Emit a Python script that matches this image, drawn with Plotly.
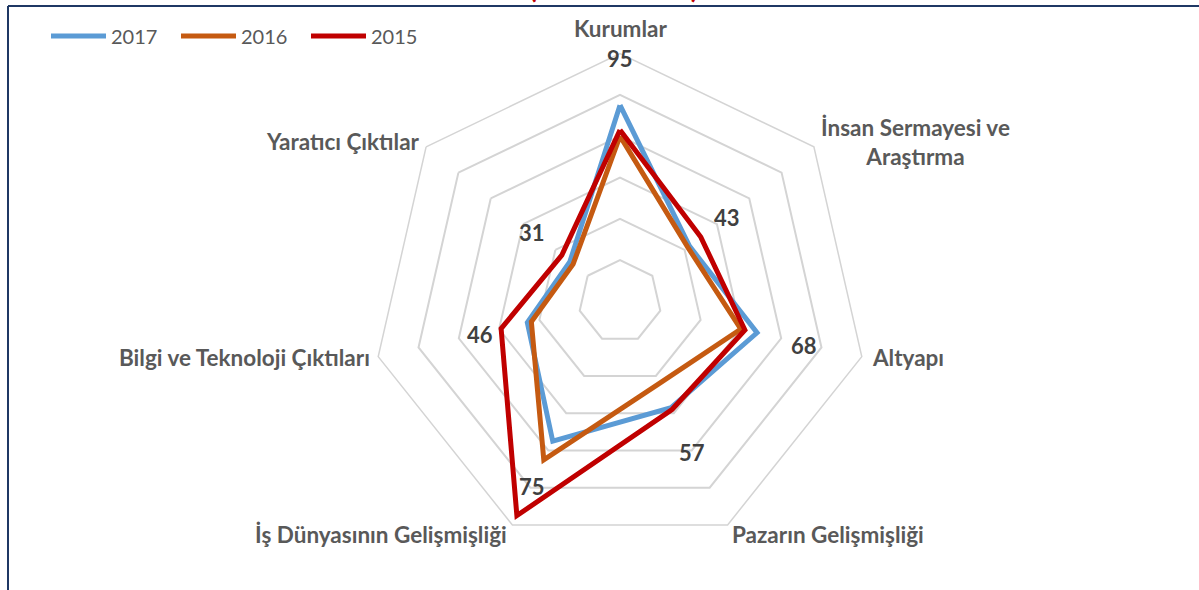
import math
import plotly.graph_objects as go

# ---- data ----
categories = ["Kurumlar", "İnsan Sermayesi ve Araştırma", "Altyapı",
              "Pazarın Gelişmişliği", "İş Dünyasının Gelişmişliği",
              "Bilgi ve Teknoloji Çıktıları", "Yaratıcı Çıktılar"]
category_labels = ["Kurumlar", "İnsan Sermayesi ve<br>Araştırma", "Altyapı",
                   "Pazarın Gelişmişliği", "İş Dünyasının Gelişmişliği",
                   "Bilgi ve Teknoloji Çıktıları", "Yaratıcı Çıktılar"]
series_names = ["2017", "2016", "2015"]
values_2017 = [95, 43, 68, 57, 75, 46, 31]
values_2016 = [80, 42, 60, 44, 85, 44, 29]
values_2015 = [83, 50, 62, 58, 115, 59, 36]
radial_ticks = [0, 20, 40, 60, 80, 100, 120]

# ---- style ----
W, H = 1199, 590
CX, CY, R = 620.0, 301.5, 248.0
colors = ["#5B9BD5", "#C55A11", "#C00000"]
FONT = "Lato"
GRID = "#D4D4D4"
RMAX = radial_ticks[-1]

fig = go.Figure()
for name, vals, col in zip(series_names, [values_2017, values_2016, values_2015], colors):
    fig.add_trace(go.Scatterpolar(
        r=vals + vals[:1], theta=categories + categories[:1],
        mode="lines", name=name,
        line=dict(color=col, width=5), hoverinfo="skip"))

n = len(categories)


def polar_to_paper(rv, i):
    a = math.radians(i * 360.0 / n)
    rp = rv / RMAX * R
    return CX + rp * math.sin(a), CY - rp * math.cos(a)


annotations = []

# data labels for 2017, pushed outward along each axis
label_offset = 23.5
for i, v in enumerate(values_2017):
    px, py = polar_to_paper(v + label_offset, i)
    annotations.append(dict(
        x=px / W, y=1 - (py + 1.5) / H, xref="paper", yref="paper",
        text=str(v), showarrow=False, xanchor="center", yanchor="middle",
        font=dict(family=FONT, size=22, color="#404040", weight="bold")))

# category labels placed next to the outer polygon vertices
offsets = [  # (dx, dy, xanchor)
    (0, -25.5, "center"),
    (5, -5, "left"),
    (8, 1, "left"),
    (2, 10, "left"),
    (-3, 10, "right"),
    (-6, 1, "right"),
    (-4, -5, "right"),
]
for i, lab in enumerate(category_labels):
    vx, vy = polar_to_paper(RMAX, i)
    dx, dy, xa = offsets[i]
    annotations.append(dict(
        x=(vx + dx) / W, y=1 - (vy + dy) / H, xref="paper", yref="paper",
        text=lab, showarrow=False, xanchor=xa, yanchor="middle", align="center",
        font=dict(family=FONT, size=22.5, color="#595959", weight="bold")))

# title (mostly cut off at the top of the frame, as in the original)
annotations.append(dict(
    x=613 / W, y=1 - 6 / H, xref="paper", yref="paper", xanchor="center", yanchor="bottom",
    text="(2015 - 2017)", showarrow=False,
    font=dict(family=FONT, size=28, color="#C00000", weight="bold")))

fig.update_layout(
    width=W, height=H, margin=dict(l=0, r=0, t=0, b=0),
    paper_bgcolor="white", plot_bgcolor="white",
    polar=dict(
        domain=dict(x=[(CX - R) / W, (CX + R) / W], y=[(H - CY - R) / H, (H - CY + R) / H]),
        gridshape="linear", bgcolor="white",
        radialaxis=dict(range=[radial_ticks[0], RMAX], tickvals=radial_ticks,
                        showticklabels=False, ticks="", showline=False,
                        gridcolor=GRID, gridwidth=1.5),
        angularaxis=dict(direction="clockwise", rotation=90, showgrid=False,
                         showticklabels=False, ticks="", showline=True,
                         linecolor=GRID, linewidth=1.5),
    ),
    legend=dict(orientation="h", x=46 / W, y=1 - 36 / H, xanchor="left", yanchor="middle",
                itemwidth=55, entrywidth=60, entrywidthmode="pixels",
                font=dict(family=FONT, size=20, color="#595959"), bgcolor="rgba(0,0,0,0)"),
    annotations=annotations,
    shapes=[
        dict(type="line", xref="paper", yref="paper", x0=8 / W, x1=1, y0=1 - 6 / H, y1=1 - 6 / H,
             line=dict(color="#1F3864", width=2)),
        dict(type="line", xref="paper", yref="paper", x0=8 / W, x1=8 / W, y0=0, y1=1 - 6 / H,
             line=dict(color="#1F3864", width=2)),
    ],
)

fig.write_html("out.html", config={"displayModeBar": False},
               post_script="document.body.style.margin='0px';")
